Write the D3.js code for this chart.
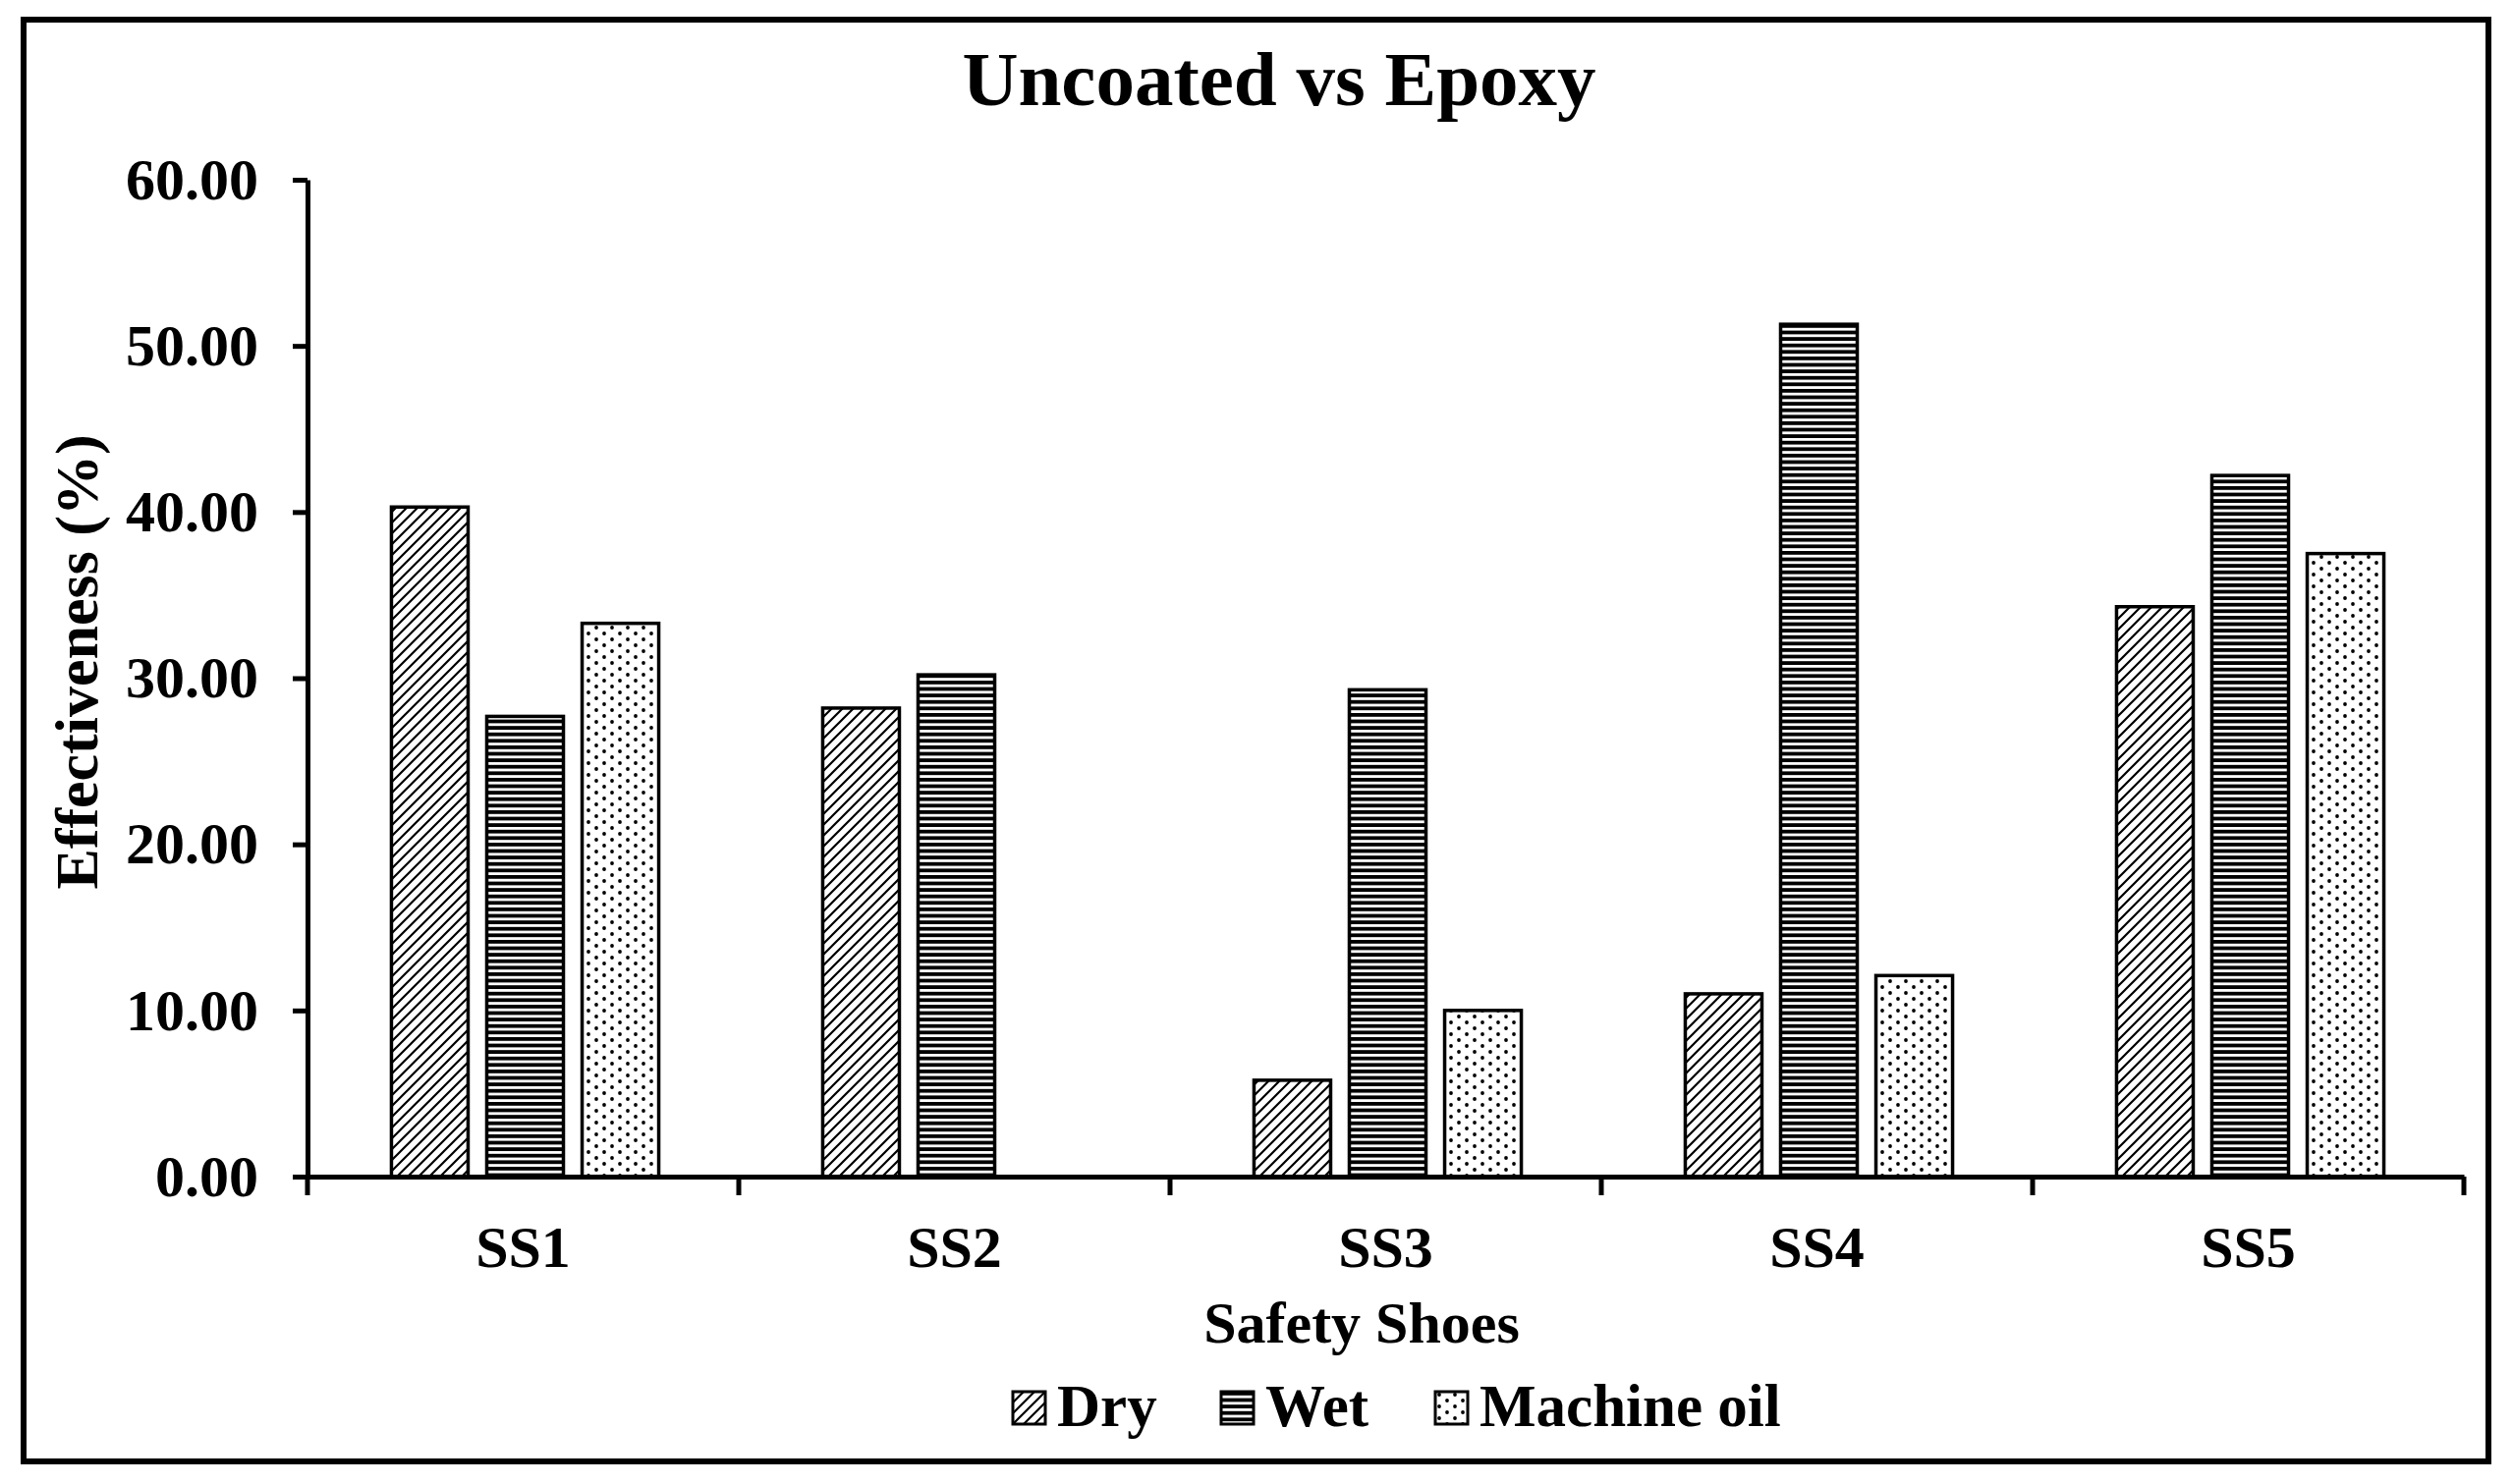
<!DOCTYPE html>
<html>
<head>
  <script src="https://d3js.org/d3.v7.min.js"></script>
  <style>
    body { margin: 0; background: #fff; }
    text { font-family: "Liberation Serif", "Times New Roman", serif; font-weight: bold; fill: #000; }
  </style>
</head>
<body>
  <svg width="2558" height="1511"></svg>
  <script>
    const width = 2558, height = 1511;

    const categories = ["SS1", "SS2", "SS3", "SS4", "SS5"];
    const series = ["Dry", "Wet", "Machine oil"];
    const dry = [40.3, 28.2, 5.8, 11.0, 34.3];
    const wet = [27.7, 30.2, 29.3, 51.3, 42.2];
    const oil = [33.3, null, 10.0, 12.1, 37.5];
    const yTicks = [0, 10, 20, 30, 40, 50, 60];

    const values = [dry, wet, oil];
    const fills = ["url(#hatch)", "url(#stripes)", "url(#dots)"];

    const svg = d3.select("svg");

    // patterns
    const defs = svg.append("defs");
    const hatch = defs.append("pattern")
      .attr("id", "hatch").attr("patternUnits", "userSpaceOnUse")
      .attr("width", 11).attr("height", 11);
    hatch.append("rect").attr("width", 11).attr("height", 11).attr("fill", "#fff");
    hatch.append("path")
      .attr("d", "M-2,13 L13,-2 M-2,2 L2,-2 M9,13 L13,9")
      .attr("stroke", "#000").attr("stroke-width", 2.2);

    const stripes = defs.append("pattern")
      .attr("id", "stripes").attr("patternUnits", "userSpaceOnUse")
      .attr("width", 10).attr("height", 6.6);
    stripes.append("rect").attr("width", 10).attr("height", 6.6).attr("fill", "#fff");
    stripes.append("rect").attr("y", 0).attr("width", 10).attr("height", 3.8).attr("fill", "#000");

    const dots = defs.append("pattern")
      .attr("id", "dots").attr("patternUnits", "userSpaceOnUse")
      .attr("width", 16).attr("height", 12);
    dots.append("rect").attr("width", 16).attr("height", 12).attr("fill", "#fff");
    dots.append("circle").attr("cx", 4).attr("cy", 3).attr("r", 1.9).attr("fill", "#000");
    dots.append("circle").attr("cx", 12).attr("cy", 9).attr("r", 1.9).attr("fill", "#000");

    // outer frame
    svg.append("rect")
      .attr("x", 24).attr("y", 20).attr("width", 2509).attr("height", 1468)
      .attr("fill", "none").attr("stroke", "#000").attr("stroke-width", 6);

    const x0 = d3.scaleBand().domain(categories).range([313, 2508]);
    const x1 = d3.scaleBand().domain(series).range([0, x0.bandwidth()])
      .paddingInner(0.196).paddingOuter(0.86);
    const y = d3.scaleLinear().domain([0, 60]).range([1198, 183]);

    // bars
    const groups = svg.selectAll(".grp")
      .data(categories)
      .enter().append("g")
      .attr("transform", c => `translate(${x0(c) + 2},0)`);

    groups.selectAll("rect")
      .data((c, i) => series.map((s, j) => ({ s: s, j: j, v: values[j][i] })).filter(d => d.v != null))
      .enter().append("rect")
      .attr("x", d => x1(d.s))
      .attr("y", d => y(d.v))
      .attr("width", x1.bandwidth())
      .attr("height", d => y(0) - y(d.v))
      .attr("fill", d => fills[d.j])
      .attr("stroke", "#000")
      .attr("stroke-width", 3.5);

    // y axis
    const yAxis = svg.append("g")
      .attr("transform", "translate(313,0)")
      .call(d3.axisLeft(y).tickValues(yTicks).tickFormat(d3.format(".2f"))
        .tickSize(15).tickSizeOuter(0).tickPadding(35));
    yAxis.selectAll("path, line").attr("stroke", "#000").attr("stroke-width", 5);
    yAxis.selectAll("text").attr("font-size", 60)
      .style("font-family", "'Liberation Serif', serif").style("font-weight", "bold");

    // x axis
    const xAxis = svg.append("g")
      .attr("transform", "translate(0,1198)")
      .call(d3.axisBottom(x0).tickSize(0).tickPadding(49));
    xAxis.select(".domain").attr("stroke", "#000").attr("stroke-width", 5);
    xAxis.selectAll("text").attr("font-size", 60)
      .style("font-family", "'Liberation Serif', serif").style("font-weight", "bold");
    xAxis.selectAll(".bound")
      .data(categories.map(c => x0(c)).concat([x0.range()[1]]))
      .enter().append("line")
      .attr("x1", d => d).attr("x2", d => d)
      .attr("y1", 0).attr("y2", 19)
      .attr("stroke", "#000").attr("stroke-width", 5);

    // titles
    svg.append("text")
      .attr("x", 1302).attr("y", 107)
      .attr("text-anchor", "middle").attr("font-size", 79)
      .text("Uncoated vs Epoxy");

    svg.append("text")
      .attr("x", 1386).attr("y", 1367)
      .attr("text-anchor", "middle").attr("font-size", 60)
      .text("Safety Shoes");

    svg.append("text")
      .attr("transform", "translate(99,674) rotate(-90)")
      .attr("text-anchor", "middle").attr("font-size", 62)
      .text("Effectiveness (%)");

    // legend
    const legendX = [1031, 1243, 1461];
    const legend = svg.selectAll(".leg")
      .data(series)
      .enter().append("g")
      .attr("transform", (d, i) => `translate(${legendX[i]},1417)`);
    legend.append("rect")
      .attr("width", 33).attr("height", 33)
      .attr("fill", (d, i) => fills[i])
      .attr("stroke", "#000").attr("stroke-width", 3);
    legend.append("text")
      .attr("x", 45).attr("y", 35)
      .attr("font-size", 61)
      .text(d => d);
  </script>
</body>
</html>
